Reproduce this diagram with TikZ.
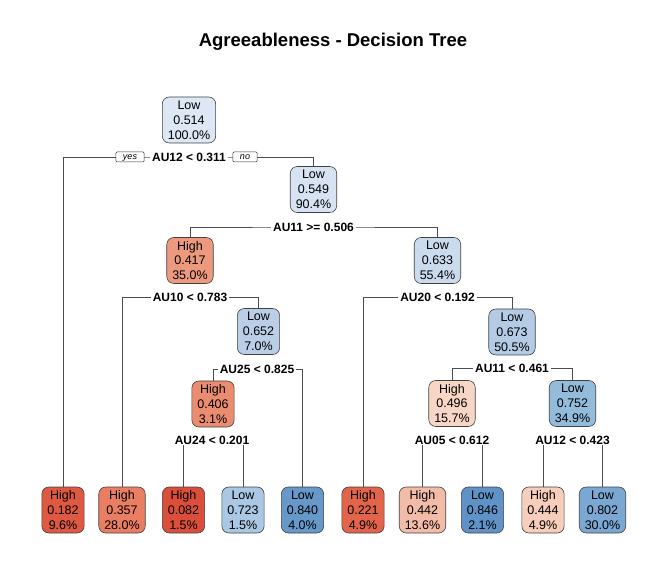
\documentclass[tikz,border=0pt]{standalone}
\usepackage{fontspec}
\setmainfont{Liberation Sans}
\usetikzlibrary{backgrounds}
\definecolor{cRoot}{RGB}{222,231,244}
\definecolor{cNa}{RGB}{215,227,242}
\definecolor{cNc}{RGB}{203,219,238}
\definecolor{cNd}{RGB}{186,206,232}
\definecolor{cNf}{RGB}{180,203,229}
\definecolor{cNi}{RGB}{147,187,219}
\definecolor{cNb}{RGB}{236,153,126}
\definecolor{cNg}{RGB}{234,140,112}
\definecolor{cNh}{RGB}{248,214,198}
\definecolor{cLa}{RGB}{222,88,66}
\definecolor{cLb}{RGB}{234,126,98}
\definecolor{cLc}{RGB}{219,78,58}
\definecolor{cLd}{RGB}{170,199,228}
\definecolor{cLe}{RGB}{102,152,201}
\definecolor{cLf}{RGB}{226,100,74}
\definecolor{cLg}{RGB}{242,188,168}
\definecolor{cLh}{RGB}{95,147,199}
\definecolor{cLi}{RGB}{247,205,188}
\definecolor{cLj}{RGB}{122,168,210}
\begin{document}
\begin{tikzpicture}[x=1pt,y=-1pt,
  box/.style={draw=black!75, line width=0.6pt, rounded corners=7pt, align=center,
    font=\fontsize{12.5}{14.8}\selectfont, inner xsep=5.5pt, inner ysep=0pt, minimum height=46pt},
  split/.style={fill=white, font=\bfseries\fontsize{12}{14}\selectfont, inner xsep=2pt, inner ysep=1pt},
  yn/.style={draw=black!80, line width=0.5pt, fill=white, font=\itshape\fontsize{9}{9}\selectfont,
    inner xsep=7pt, inner ysep=1pt, text height=6.5pt, text depth=1.5pt, rounded corners=1pt},
  conn/.style={draw=black!70, line width=0.6pt}]
\useasboundingbox (0,0) rectangle (667,569);

\node[font=\bfseries\fontsize{18.5}{20}\selectfont] (title) at (333,42) {Agreeableness - Decision Tree};

% internal nodes
\node[box, fill=cRoot] (n1) at (189,120) {Low\\0.514\\100.0\%};
\node[box, fill=cNa] (n2) at (313.5,189.5) {Low\\0.549\\90.4\%};
\node[box, fill=cNb] (n3) at (190,260.5) {High\\0.417\\35.0\%};
\node[box, fill=cNc] (n4) at (437.5,260.5) {Low\\0.633\\55.4\%};
\node[box, fill=cNd] (n5) at (258.5,331.5) {Low\\0.652\\7.0\%};
\node[box, fill=cNf] (n6) at (512,332) {Low\\0.673\\50.5\%};
\node[box, fill=cNg] (n7) at (213,404) {High\\0.406\\3.1\%};
\node[box, fill=cNh] (n8) at (452,403.5) {High\\0.496\\15.7\%};
\node[box, fill=cNi] (n9) at (572.5,403.5) {Low\\0.752\\34.9\%};

% leaves
\node[box, fill=cLa] (l1) at (63,510) {High\\0.182\\9.6\%};
\node[box, fill=cLb] (l2) at (122,510) {High\\0.357\\28.0\%};
\node[box, fill=cLc] (l3) at (183.5,510) {High\\0.082\\1.5\%};
\node[box, fill=cLd] (l4) at (243,510) {Low\\0.723\\1.5\%};
\node[box, fill=cLe] (l5) at (302.5,510) {Low\\0.840\\4.0\%};
\node[box, fill=cLf] (l6) at (363,510) {High\\0.221\\4.9\%};
\node[box, fill=cLg] (l7) at (422.5,510) {High\\0.442\\13.6\%};
\node[box, fill=cLh] (l8) at (482.5,510) {Low\\0.846\\2.1\%};
\node[box, fill=cLi] (l9) at (543,510) {High\\0.444\\4.9\%};
\node[box, fill=cLj] (l10) at (602.5,510) {Low\\0.802\\30.0\%};

% split labels
\node[split] (s1) at (189,157) {AU12 < 0.311};
\node[split] (s2) at (313.5,227) {AU11 >= 0.506};
\node[split] (s3) at (190,297) {AU10 < 0.783};
\node[split] (s4) at (437.5,297) {AU20 < 0.192};
\node[split] (s5) at (257,369) {AU25 < 0.825};
\node[split] (s6) at (512,368.5) {AU11 < 0.461};
\node[split] (s7) at (212,440) {AU24 < 0.201};
\node[split] (s8) at (452,440) {AU05 < 0.612};
\node[split] (s9) at (572.5,440) {AU12 < 0.423};

\node[yn] (yes) at (130,157) {yes};
\node[yn] (no) at (245,157) {no};

\begin{pgfonlayer}{background}
\draw[conn] (l1.north) |- (s1.center) -| (n2.north);
\draw[conn] (n3.north) |- (s2.center) -| (n4.north);
\draw[conn] (l2.north) |- (s3.center) -| (n5.north);
\draw[conn] (l6.north) |- (s4.center) -| (n6.north);
\draw[conn] (n7.north) |- (s5.center) -| (l5.north);
\draw[conn] (n8.north) |- (s6.center) -| (n9.north);
\draw[conn] (l3.north) |- (s7.center) -| (l4.north);
\draw[conn] (l7.north) |- (s8.center) -| (l8.north);
\draw[conn] (l9.north) |- (s9.center) -| (l10.north);
\end{pgfonlayer}
\end{tikzpicture}
\end{document}
